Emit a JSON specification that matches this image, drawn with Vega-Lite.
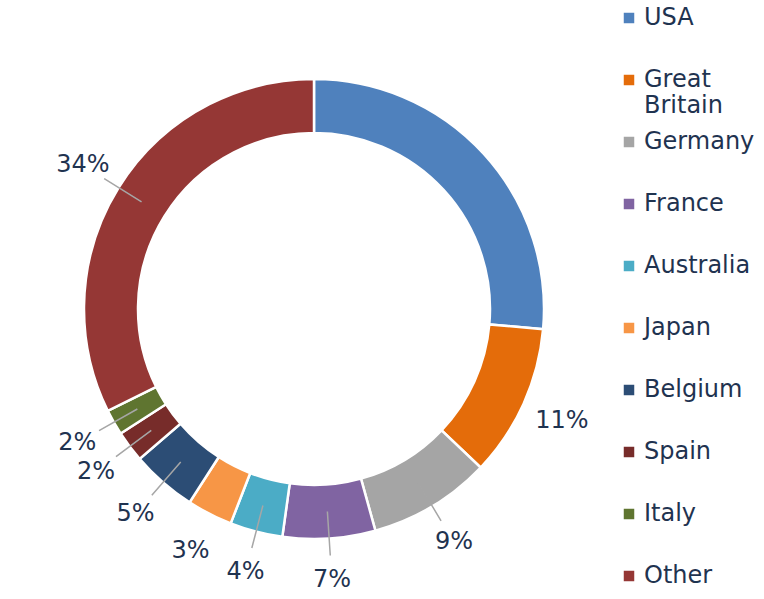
{
  "$schema": "https://vega.github.io/schema/vega-lite/v6.json",
  "width": 560,
  "height": 580,
  "autosize": {"type": "none"},
  "padding": {"left": 34, "top": 19, "right": 170, "bottom": 0},
  "background": "white",
  "config": {"view": {"stroke": null}},
  "data": {
    "values": [
      {"country": "USA", "share": 26.4, "label": "", "idx": 1},
      {"country": "Great Britain", "share": 10.7, "label": "11%", "idx": 2},
      {"country": "Germany", "share": 8.6, "label": "9%", "idx": 3},
      {"country": "France", "share": 6.5, "label": "7%", "idx": 4},
      {"country": "Australia", "share": 3.7, "label": "4%", "idx": 5},
      {"country": "Japan", "share": 3.2, "label": "3%", "idx": 6},
      {"country": "Belgium", "share": 4.6, "label": "5%", "idx": 7},
      {"country": "Spain", "share": 2.2, "label": "2%", "idx": 8},
      {"country": "Italy", "share": 1.8, "label": "2%", "idx": 9},
      {"country": "Other", "share": 32.3, "label": "34%", "idx": 10}
    ]
  },
  "encoding": {
    "theta": {"field": "share", "type": "quantitative", "stack": true},
    "order": {"field": "idx", "type": "quantitative"}
  },
  "layer": [
    {
      "mark": {"type": "arc", "innerRadius": 176, "outerRadius": 230, "stroke": "white", "strokeWidth": 2.5},
      "encoding": {
        "color": {
          "field": "country",
          "type": "nominal",
          "scale": {
            "domain": ["USA", "Great Britain", "Germany", "France", "Australia", "Japan", "Belgium", "Spain", "Italy", "Other"],
            "range": ["#4f81bd", "#e46c0a", "#a5a5a5", "#8064a2", "#4bacc6", "#f79646", "#2c4d75", "#772c2a", "#5f7530", "#953735"]
          },
          "legend": {
            "orient": "none",
            "legendX": 583,
            "legendY": -13,
            "title": null,
            "padding": 0,
            "gridAlign": "all",
            "symbolType": "square",
            "symbolSize": 110,
            "symbolStrokeWidth": 0,
            "labelFont": "DejaVu Sans",
            "labelFontSize": 24,
            "labelColor": "#1f3350",
            "labelOffset": 3,
            "rowPadding": 12,
            "labelLimit": 200,
            "labelExpr": "datum.label === 'Great Britain' ? ['Great', 'Britain'] : datum.label"
          }
        }
      }
    },
    {
      "mark": {"type": "arc", "innerRadius": 203, "outerRadius": 247, "padAngle": 3.1, "filled": false, "stroke": "#a6a6a6", "strokeWidth": 1.5},
      "encoding": {
        "detail": {"field": "country"},
        "strokeOpacity": {
          "condition": {"test": "datum.country === 'USA' || datum.country === 'Great Britain' || datum.country === 'Japan'", "value": 0},
          "value": 1
        }
      }
    },
    {
      "mark": {"type": "text", "radius": 272, "font": "DejaVu Sans", "fontSize": 24, "color": "#1f3350"},
      "encoding": {
        "detail": {"field": "country"},
        "text": {"field": "label"}
      }
    }
  ]
}
